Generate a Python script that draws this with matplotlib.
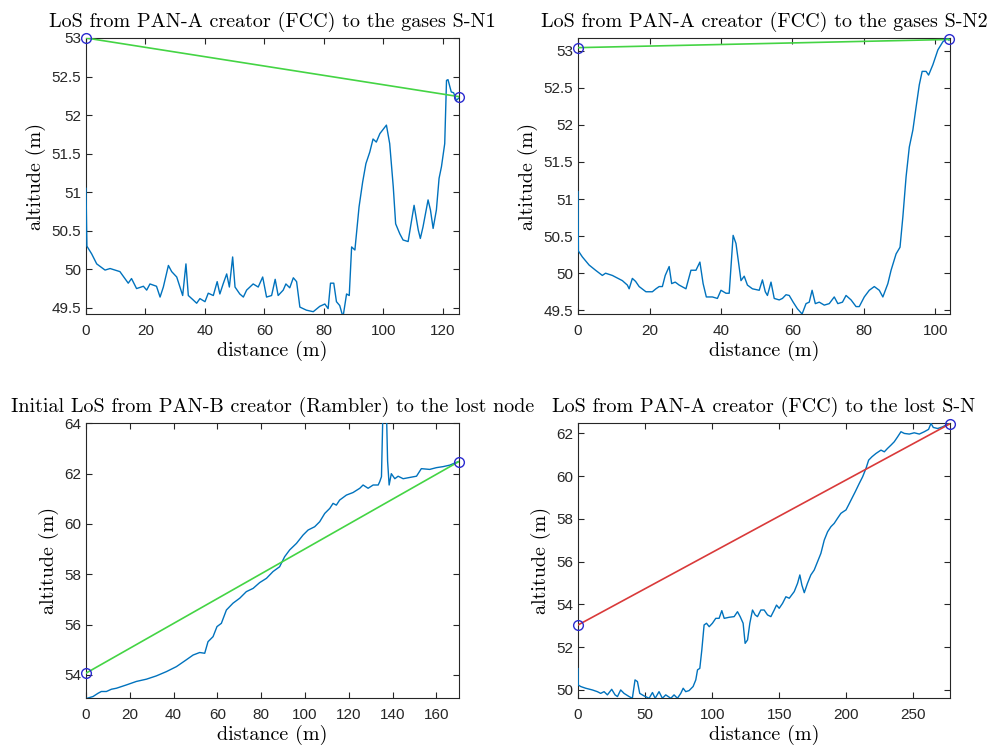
from matplotlib import pyplot as plt
from matplotlib.ticker import FormatStrFormatter

# terrain profile 1 (FCC -> S-N1)
d1 = [0, 0.3, 1.9, 3.6, 6.4, 8.1, 11.4, 14.2, 15.3, 17.0, 19.3, 20.4, 21.5, 23.7, 24.9, 26.0,
      27.7, 28.8, 30.5, 32.5, 33.6, 34.4, 36.1, 37.2, 38.3, 40.0, 41.1, 42.8, 44.1, 45.0, 46.1,
      47.3, 48.2, 49.3, 50.1, 51.7, 52.9, 54.0, 56.2, 57.9, 59.4, 60.7, 62.4, 63.6, 64.6, 66.3,
      67.2, 68.5, 69.7, 70.8, 71.9, 74.1, 76.4, 78.6, 80.3, 81.4, 82.2, 83.3, 84.2, 85.3, 86.4,
      87.6, 88.5, 89.3, 90.4, 91.8, 93.0, 94.1, 95.4, 96.5, 97.6, 98.8, 101.0, 102.1, 103.3,
      104.1, 105.5, 106.6, 108.3, 109.1, 110.3, 111.7, 112.4, 113.3, 115.0, 115.8, 116.7, 117.8,
      118.7, 119.5, 120.6, 121.2, 121.7, 122.8, 123.6, 124.5, 125.3]
a1 = [51.05, 50.3, 50.2, 50.07, 49.99, 50.01, 49.97, 49.82, 49.88, 49.75, 49.78, 49.73, 49.81,
      49.78, 49.64, 49.77, 50.05, 49.97, 49.90, 49.66, 50.07, 49.66, 49.60, 49.56, 49.62, 49.58,
      49.69, 49.66, 49.84, 49.68, 49.81, 49.94, 49.77, 50.16, 49.77, 49.68, 49.64, 49.73, 49.81,
      49.77, 49.90, 49.64, 49.66, 49.87, 49.66, 49.73, 49.81, 49.76, 49.89, 49.84, 49.51, 49.47,
      49.45, 49.52, 49.55, 49.49, 49.82, 49.82, 49.58, 49.53, 49.38, 49.68, 49.66, 50.29, 50.25,
      50.81, 51.13, 51.37, 51.52, 51.69, 51.65, 51.76, 51.87, 51.63, 51.07, 50.59, 50.46, 50.38,
      50.36, 50.55, 50.83, 50.51, 50.40, 50.55, 50.90, 50.77, 50.53, 50.77, 51.18, 51.33, 51.63,
      52.45, 52.46, 52.30, 52.29, 52.19, 52.22]
los1_d = [0, 125.3]
los1_a = [53.0, 52.24]

# terrain profile 2 (FCC -> S-N2)
d2 = [0, 0.1, 1.2, 3.1, 4.9, 6.8, 7.7, 9.6, 12.4, 13.8, 14.3, 15.2, 16.1, 17.1, 19.0, 20.8, 21.8,
      22.7, 23.6, 24.4, 25.5, 26.2, 27.2, 28.3, 30.2, 31.6, 33.0, 34.1, 35.0, 35.9, 37.6, 39.0,
      40.0, 41.4, 42.3, 43.4, 44.2, 45.6, 46.5, 47.4, 48.8, 50.7, 51.6, 52.4, 53.0, 54.0, 54.9,
      56.3, 57.2, 58.2, 59.1, 60.2, 61.4, 62.7, 63.8, 64.7, 65.5, 66.4, 67.5, 68.9, 70.3, 71.7,
      72.7, 74.0, 75.0, 76.4, 77.8, 78.7, 80.1, 81.5, 82.9, 84.3, 85.3, 86.7, 87.6, 89.0, 90.1,
      90.9, 91.8, 92.7, 93.7, 94.6, 95.5, 96.3, 97.4, 98.1, 99.3, 100.7, 102.1, 103.5, 103.8]
a2 = [51.1, 50.3, 50.22, 50.11, 50.04, 49.97, 50.0, 49.97, 49.90, 49.84, 49.79, 49.93, 49.89,
      49.82, 49.75, 49.75, 49.79, 49.82, 49.82, 49.97, 50.09, 49.86, 49.88, 49.84, 49.79, 50.04,
      50.04, 50.15, 49.86, 49.68, 49.68, 49.66, 49.77, 49.73, 49.73, 50.51, 50.40, 49.90, 49.96,
      49.84, 49.79, 49.77, 49.91, 49.75, 49.70, 49.88, 49.66, 49.64, 49.66, 49.71, 49.70, 49.61,
      49.52, 49.45, 49.59, 49.61, 49.77, 49.59, 49.61, 49.57, 49.59, 49.68, 49.59, 49.61, 49.70,
      49.64, 49.55, 49.55, 49.68, 49.77, 49.82, 49.77, 49.68, 49.86, 50.04, 50.26, 50.35, 50.76,
      51.30, 51.70, 51.93, 52.24, 52.54, 52.72, 52.72, 52.67, 52.81, 53.01, 53.12, 53.17, 53.14]
los2_d = [0, 103.8]
los2_a = [53.04, 53.15]

# terrain profile 3 (Rambler -> lost node)
d3 = [0.5, 3.2, 5.5, 7.0, 9.3, 11.6, 13.9, 18.4, 23.0, 27.6, 32.1, 36.7, 41.3, 45.8, 48.9, 51.9,
      54.2, 55.7, 58.0, 59.8, 61.8, 64.1, 67.1, 70.2, 73.2, 76.3, 79.3, 82.4, 85.4, 88.4, 90.7,
      93.0, 96.1, 99.1, 101.4, 104.4, 106.7, 109.0, 111.3, 112.8, 114.3, 115.8, 118.9, 121.9,
      125.0, 126.5, 128.8, 131.1, 133.4, 134.1, 134.9, 135.6, 136.4, 137.2, 137.7, 138.4, 139.4,
      141.0, 142.5, 144.8, 147.8, 150.9, 153.1, 156.9, 160.0, 163.0, 166.1, 169.9, 170.2]
a3 = [53.07, 53.14, 53.27, 53.34, 53.34, 53.43, 53.47, 53.60, 53.74, 53.83, 53.96, 54.13, 54.33,
      54.60, 54.79, 54.89, 54.86, 55.32, 55.52, 55.92, 56.05, 56.58, 56.85, 57.05, 57.31, 57.44,
      57.67, 57.84, 58.11, 58.30, 58.70, 58.97, 59.23, 59.56, 59.76, 59.89, 60.09, 60.42, 60.62,
      60.82, 60.75, 60.95, 61.15, 61.25, 61.42, 61.55, 61.42, 61.55, 61.55, 61.68, 61.88, 64.6,
      64.5, 64.4, 62.5, 61.55, 62.0, 61.8, 61.9, 61.8, 61.85, 61.9, 62.2, 62.17, 62.24, 62.28,
      62.34, 62.48, 62.48]
los3_d = [0, 170.2]
los3_a = [54.07, 62.48]

# terrain profile 4 (FCC -> lost S-N)
d4 = [0, 0.2, 2.0, 5.7, 10.7, 14.4, 16.9, 19.4, 21.9, 25.1, 27.6, 29.4, 31.8, 34.3, 38.1, 40.5,
      42.5, 44.3, 46.0, 49.3, 53.0, 55.5, 57.5, 60.4, 62.9, 65.4, 69.2, 71.6, 74.1, 76.6, 78.4,
      80.3, 82.8, 85.8, 87.8, 89.1, 90.8, 92.3, 94.0, 95.8, 97.8, 100.2, 102.7, 105.2, 107.2,
      109.0, 112.7, 116.4, 118.9, 120.9, 123.1, 124.6, 126.4, 128.1, 130.1, 132.1, 133.8, 136.3,
      138.8, 141.3, 143.8, 146.3, 148.0, 150.0, 152.5, 155.0, 157.5, 161.2, 163.7, 165.4, 166.9,
      168.7, 171.1, 173.6, 176.1, 178.6, 181.1, 183.6, 186.1, 188.6, 191.0, 193.5, 196.0, 197.8,
      199.8, 201.7, 204.2, 206.7, 209.7, 212.2, 214.7, 216.7, 219.2, 222.1, 225.9, 228.4, 230.8,
      233.3, 235.8, 238.3, 240.8, 243.3, 247.0, 250.7, 254.5, 258.2, 261.4, 263.2, 264.9, 268.2,
      271.9, 275.6, 277.3]
a4 = [51.0, 50.23, 50.16, 50.08, 50.0, 49.92, 49.84, 49.92, 49.77, 50.03, 49.77, 49.69, 50.0,
      49.84, 49.69, 49.61, 50.47, 50.39, 49.84, 49.72, 49.61, 49.88, 49.61, 49.92, 49.61, 49.77,
      49.61, 49.77, 49.61, 49.84, 50.08, 49.92, 49.97, 50.16, 50.47, 50.94, 51.01, 51.87, 53.04,
      53.12, 52.96, 53.12, 53.35, 53.35, 53.71, 53.35, 53.40, 53.43, 53.66, 53.43, 53.12, 52.18,
      52.34, 53.12, 53.74, 53.51, 53.43, 53.74, 53.74, 53.51, 53.43, 53.74, 53.97, 53.82, 54.05,
      54.36, 54.29, 54.60, 54.99, 55.38, 54.91, 54.55, 54.99, 55.38, 55.61, 56.00, 56.39, 57.01,
      57.40, 57.64, 57.79, 58.03, 58.26, 58.34, 58.42, 58.65, 58.96, 59.27, 59.66, 59.97, 60.36,
      60.75, 60.91, 61.06, 61.22, 61.14, 61.30, 61.45, 61.61, 61.84, 62.08, 62.0, 61.97, 62.03,
      61.97, 62.08, 62.19, 62.47, 62.28, 62.23, 62.31, 62.44, 62.45]
los4_d = [0, 277.3]
los4_a = [53.04, 62.45]

titles = ['LoS from PAN-A creator (FCC) to the gases S-N1',
          'LoS from PAN-A creator (FCC) to the gases S-N2',
          'Initial LoS from PAN-B creator (Rambler) to the lost node',
          'LoS from PAN-A creator (FCC) to the lost S-N']

plt.rcParams['font.family'] = ['Liberation Sans', 'DejaVu Sans']
serif = ['cmr10', 'DejaVu Serif']

fig = plt.figure(figsize=(9.92, 7.45), dpi=100)
positions = [[0.0867, 0.5785, 0.376, 0.3705], [0.5827, 0.5785, 0.375, 0.3705],
             [0.0867, 0.0627, 0.376, 0.369], [0.5827, 0.0627, 0.375, 0.369]]
profiles = [(d1, a1), (d2, a2), (d3, a3), (d4, a4)]
los = [(los1_d, los1_a, '#44d444'), (los2_d, los2_a, '#44d444'),
       (los3_d, los3_a, '#44d444'), (los4_d, los4_a, '#d93a3a')]
xlims = [(0, 125.4), (0, 104.1), (0, 170.3), (0, 277.4)]
ylims = [(49.42, 53.0), (49.45, 53.17), (53.07, 64), (49.61, 62.47)]
xticks = [range(0, 121, 20), range(0, 101, 20), range(0, 161, 20), range(0, 251, 50)]
yticks = [[49.5, 50, 50.5, 51, 51.5, 52, 52.5, 53], [49.5, 50, 50.5, 51, 51.5, 52, 52.5, 53],
          range(54, 65, 2), range(50, 63, 2)]

for i in range(4):
    ax = fig.add_axes(positions[i])
    ax.plot(profiles[i][0], profiles[i][1], color='#0072BD', lw=1.0, zorder=3)
    ax.plot(los[i][0], los[i][1], color=los[i][2], lw=1.2, zorder=3)
    ax.plot(los[i][0], los[i][1], 'o', mfc='none', mec='#2b2bd0', ms=7, mew=1.0,
            clip_on=False, zorder=4)
    ax.set_xlim(xlims[i])
    ax.set_ylim(ylims[i])
    ax.set_xticks(list(xticks[i]))
    ax.set_yticks(list(yticks[i]))
    ax.yaxis.set_major_formatter(FormatStrFormatter('%g'))
    ax.tick_params(direction='in', top=True, right=True, length=4, labelsize=11,
                   colors='#262626', width=0.8)
    ax.tick_params(axis='x', pad=7)
    for s in ax.spines.values():
        s.set_color('#262626')
        s.set_linewidth(0.8)
    ax.set_title(titles[i], family=serif, fontsize=14.5, pad=8)
    ax.set_xlabel('distance (m)', family=serif, fontsize=14.5, labelpad=2)
    ax.set_ylabel('altitude (m)', family=serif, fontsize=14.5, labelpad=4)

fig.savefig('out.png', dpi=100)
